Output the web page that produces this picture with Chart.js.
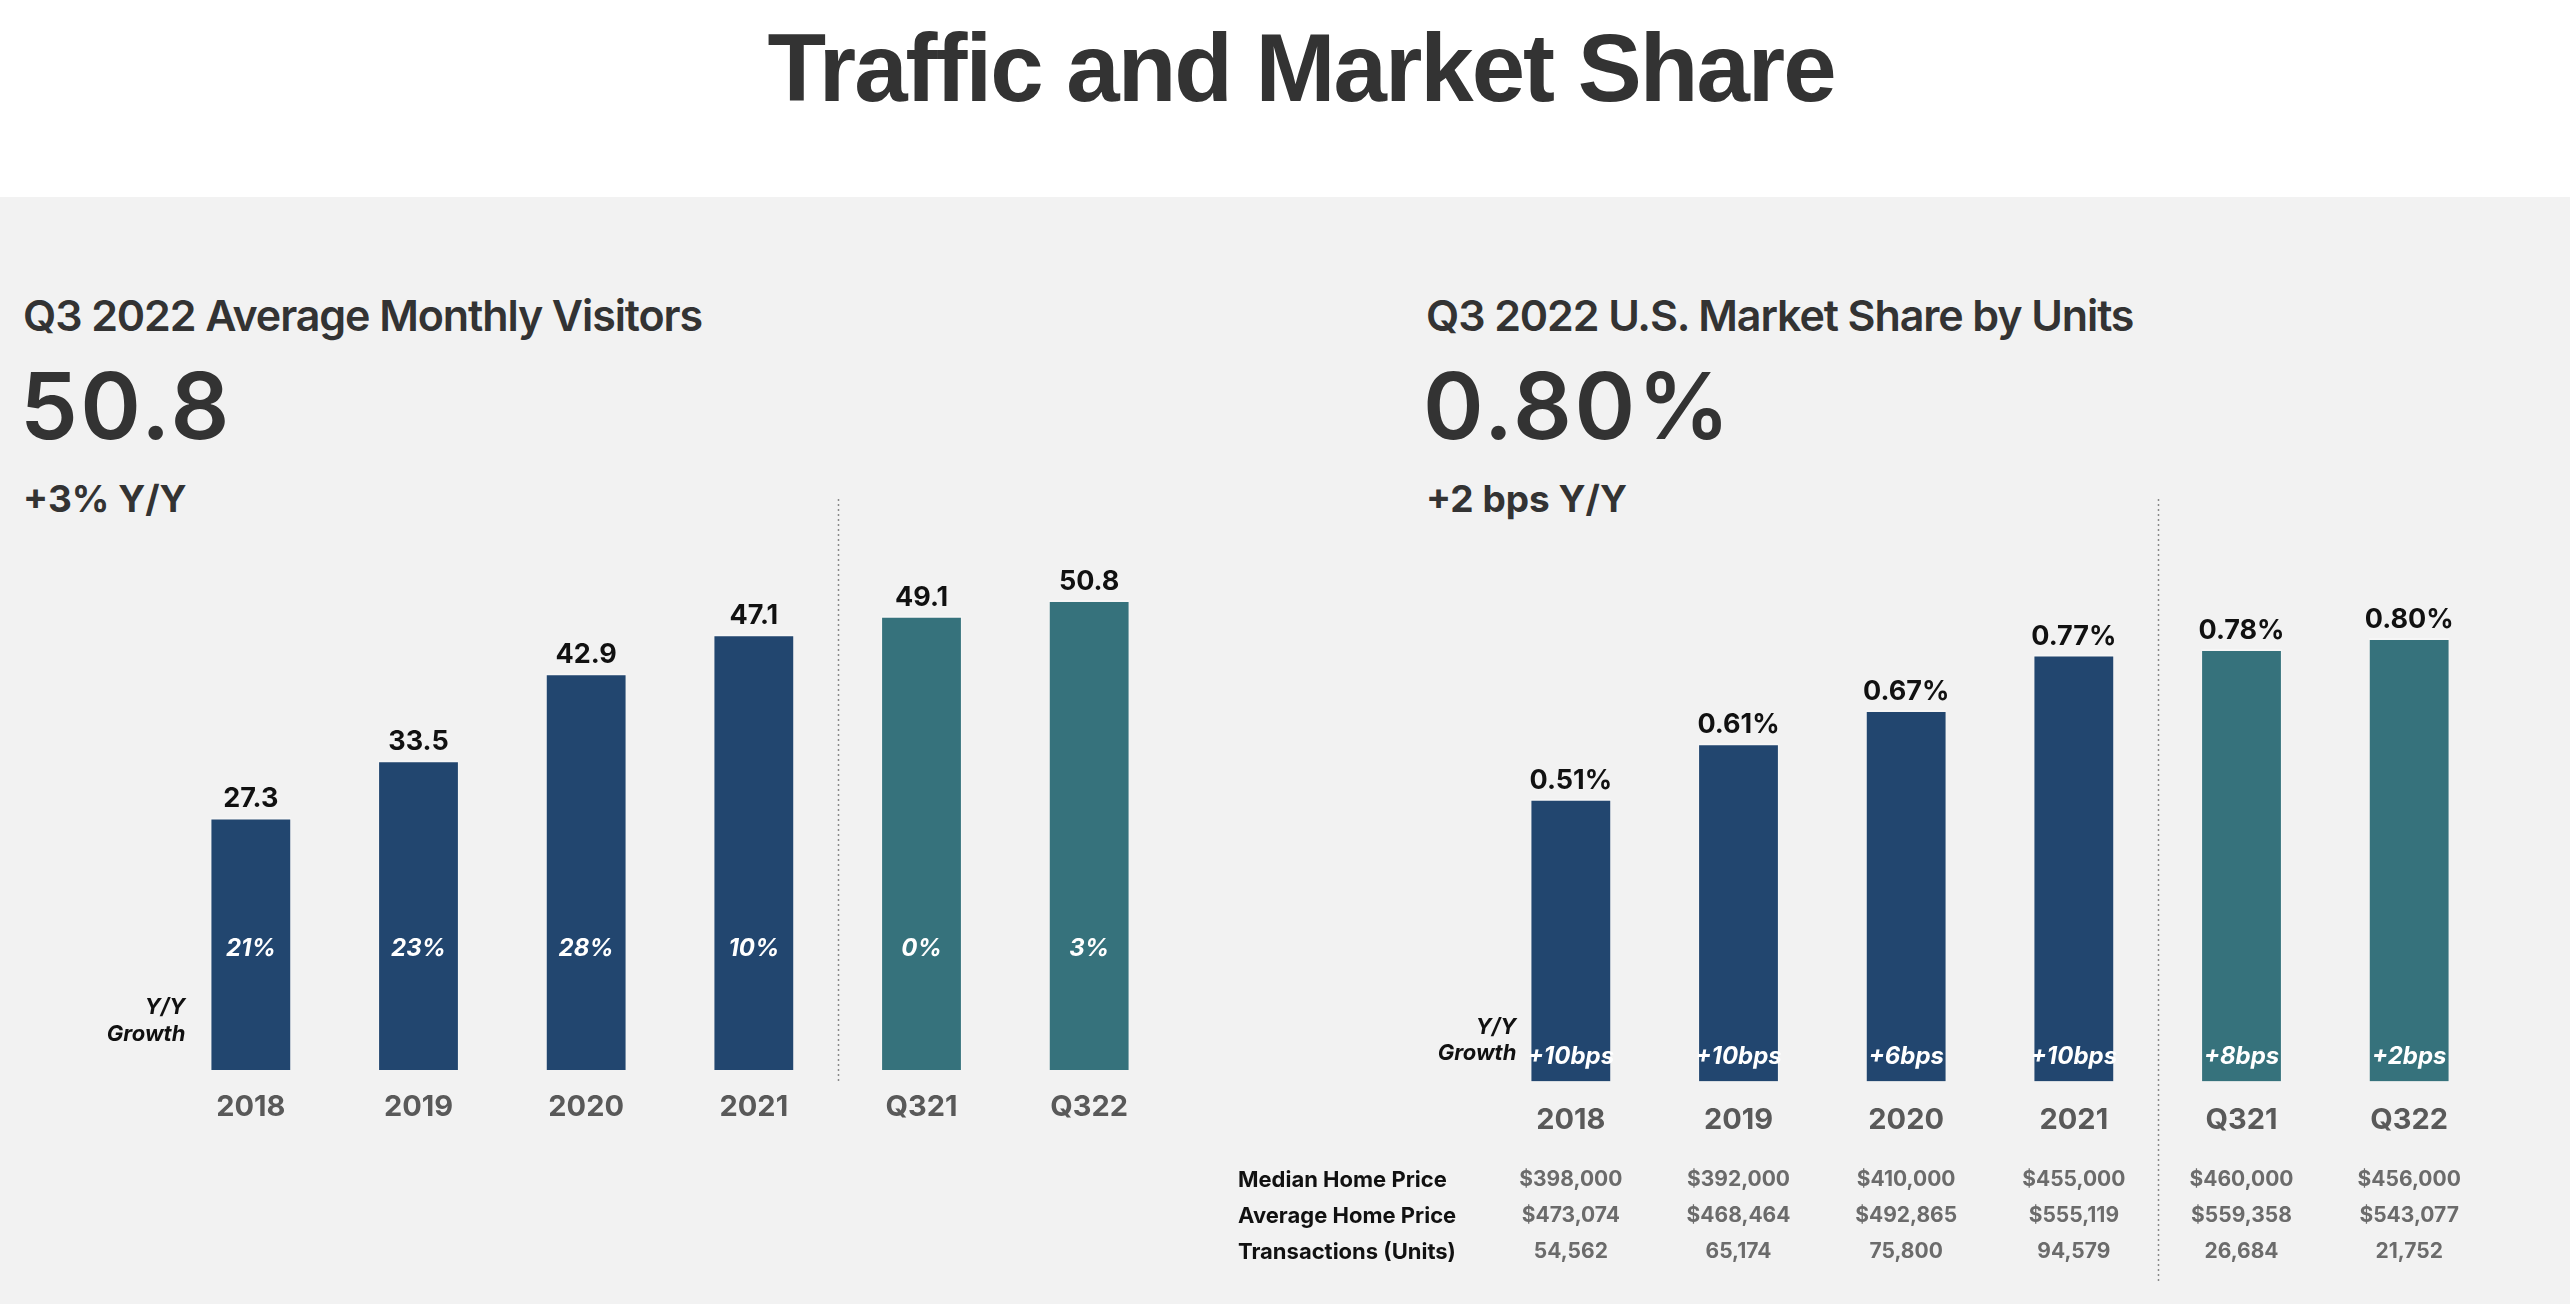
<!DOCTYPE html>
<html>
<head>
<meta charset="utf-8">
<script src="https://cdn.jsdelivr.net/npm/chart.js@4.4.0/dist/chart.umd.min.js"></script>
<style>
  html, body { margin: 0; padding: 0; }
  body { width: 2570px; height: 1304px; background: #f2f2f2; position: relative; overflow: hidden; font-family: Inter, 'Noto Sans', sans-serif; color: #333; }
  .top-band { position: absolute; left: 0; top: 0; width: 2570px; height: 197px; background: #fff; }
  .title { position: absolute; left: 1301px; top: 20px; transform: translateX(-50%); white-space: nowrap;
    font: bold 96px/1 'Liberation Sans', Arial, sans-serif; letter-spacing: -2px; color: #333; }
  .hd { position: absolute; white-space: nowrap; line-height: 1; color: #333; }
  .sub { font-size: 43px; font-weight: 600; top: 294px; letter-spacing: -1.1px; }
  .big { font-size: 92px; font-weight: 600; top: 360px; letter-spacing: 2.5px; }
  .yy { font-size: 37px; font-weight: 700; top: 480px; }
  canvas { position: absolute; }
</style>
</head>
<body>
<div class="top-band"></div>
<div class="title">Traffic and Market Share</div>

<div class="hd sub" style="left:23px">Q3 2022 Average Monthly Visitors</div>
<div class="hd big" style="left:20px">50.8</div>
<div class="hd yy" style="left:23px">+3% Y/Y</div>

<div class="hd sub" style="left:1426px">Q3 2022 U.S. Market Share by Units</div>
<div class="hd big" style="left:1423px">0.80%</div>
<div class="hd yy" style="left:1426px">+2 bps Y/Y</div>

<canvas id="visitors" width="1250" height="660" style="left:0;top:480px"></canvas>
<canvas id="share" width="1370" height="824" style="left:1200px;top:480px"></canvas>

<script>
  // data
  const periods = ['2018', '2019', '2020', '2021', 'Q321', 'Q322'];
  const visitors = [27.3, 33.5, 42.9, 47.1, 49.1, 50.8];
  const visitorGrowth = ['21%', '23%', '28%', '10%', '0%', '3%'];
  const marketShare = [0.51, 0.61, 0.67, 0.77, 0.78, 0.80];
  const shareGrowth = ['+10bps', '+10bps', '+6bps', '+10bps', '+8bps', '+2bps'];
  const medianPrice = ['$398,000', '$392,000', '$410,000', '$455,000', '$460,000', '$456,000'];
  const averagePrice = ['$473,074', '$468,464', '$492,865', '$555,119', '$559,358', '$543,077'];
  const transactions = ['54,562', '65,174', '75,800', '94,579', '26,684', '21,752'];
  const tableRows = ['Median Home Price', 'Average Home Price', 'Transactions (Units)'];

  const NAVY = '#22466f';
  const TEAL = '#36727c';
  const barColors = periods.map(p => (p.startsWith('Q') ? TEAL : NAVY));
  const FONT = 'Inter, "Noto Sans", sans-serif';

  // labels, divider, Y/Y caption, table
  const extras = {
    id: 'extras',
    afterDatasetsDraw(chart, args, opts) {
      const ctx = chart.ctx;
      const x = chart.scales.x;
      const area = chart.chartArea;
      const meta = chart.getDatasetMeta(0);
      const ds = chart.data.datasets[0];
      ctx.save();

      // dotted divider between annual and quarterly
      const midX = (x.getPixelForValue(3) + x.getPixelForValue(4)) / 2;
      ctx.strokeStyle = '#8a8a8a';
      ctx.lineWidth = 1.5;
      ctx.setLineDash([2, 3]);
      ctx.beginPath();
      ctx.moveTo(Math.round(midX) + 0.5, 19);
      ctx.lineTo(Math.round(midX) + 0.5, opts.lineEnd);
      ctx.stroke();
      ctx.setLineDash([]);

      // values above bars
      ctx.fillStyle = '#111';
      ctx.font = '700 27px ' + FONT;
      ctx.textAlign = 'center';
      ctx.textBaseline = 'alphabetic';
      meta.data.forEach((bar, i) => {
        ctx.fillText(opts.fmt(ds.data[i]), bar.x, bar.y - 10);
      });

      // growth inside bars
      ctx.fillStyle = '#fff';
      ctx.font = 'italic 700 24px ' + FONT;
      ctx.textBaseline = 'middle';
      meta.data.forEach((bar, i) => {
        ctx.fillText(opts.growth[i], bar.x, area.bottom - opts.growthOffset);
      });

      // Y/Y Growth caption
      const first = meta.data[0];
      const capX = first.x - first.width / 2 - opts.capGap;
      ctx.fillStyle = '#111';
      ctx.font = 'italic 700 22px ' + FONT;
      ctx.textAlign = 'right';
      ctx.fillText('Y/Y', capX, area.bottom - opts.capY[0]);
      ctx.fillText('Growth', capX, area.bottom - opts.capY[1]);

      // table under the chart
      if (opts.table) {
        const rows = [medianPrice, averagePrice, transactions];
        const rowY = [98.5, 134.5, 170.5];
        rows.forEach((vals, r) => {
          const y = area.bottom + rowY[r];
          ctx.textAlign = 'left';
          ctx.fillStyle = '#111';
          ctx.font = '700 22px ' + FONT;
          ctx.fillText(tableRows[r], 38, y);
          ctx.textAlign = 'center';
          ctx.fillStyle = '#6b6b6b';
          ctx.font = '700 21px ' + FONT;
          vals.forEach((v, i) => ctx.fillText(v, x.getPixelForValue(i), y));
        });
      }
      ctx.restore();
    }
  };

  function makeChart(id, values, max, padding, axisH, tickPad, opts) {
    return new Chart(document.getElementById(id), {
      type: 'bar',
      data: {
        labels: periods,
        datasets: [{
          data: values,
          backgroundColor: barColors,
          borderColor: 'rgba(255,255,255,0.35)',
          borderWidth: { top: 2, left: 1, right: 1, bottom: 0 },
          categoryPercentage: 1,
          barPercentage: 0.482
        }]
      },
      options: {
        responsive: false,
        animation: false,
        layout: { padding },
        plugins: { legend: { display: false }, tooltip: { enabled: false }, extras: opts },
        scales: {
          x: {
            grid: { display: false, drawTicks: false },
            border: { display: false },
            ticks: { color: '#595959', font: { family: FONT, size: 29, weight: '700' }, padding: tickPad },
            afterFit: s => { s.height = axisH; }
          },
          y: { display: false, min: 0, max }
        }
      },
      plugins: [extras]
    });
  }

  makeChart('visitors', visitors, 60, { top: 35, left: 167, right: 77, bottom: 0 }, 70, 20, {
    fmt: v => v.toFixed(1),
    growth: visitorGrowth,
    growthOffset: 121,
    capGap: 25,
    capY: [62.5, 35.5],
    lineEnd: 602,
    table: false
  });

  makeChart('share', marketShare, 1.0, { top: 47, left: 287, right: 77, bottom: 0 }, 222.5, 21, {
    fmt: v => v.toFixed(2) + '%',
    growth: shareGrowth,
    growthOffset: 24.5,
    capGap: 14,
    capY: [54.5, 28.5],
    lineEnd: 804,
    table: true
  });
</script>
</body>
</html>
